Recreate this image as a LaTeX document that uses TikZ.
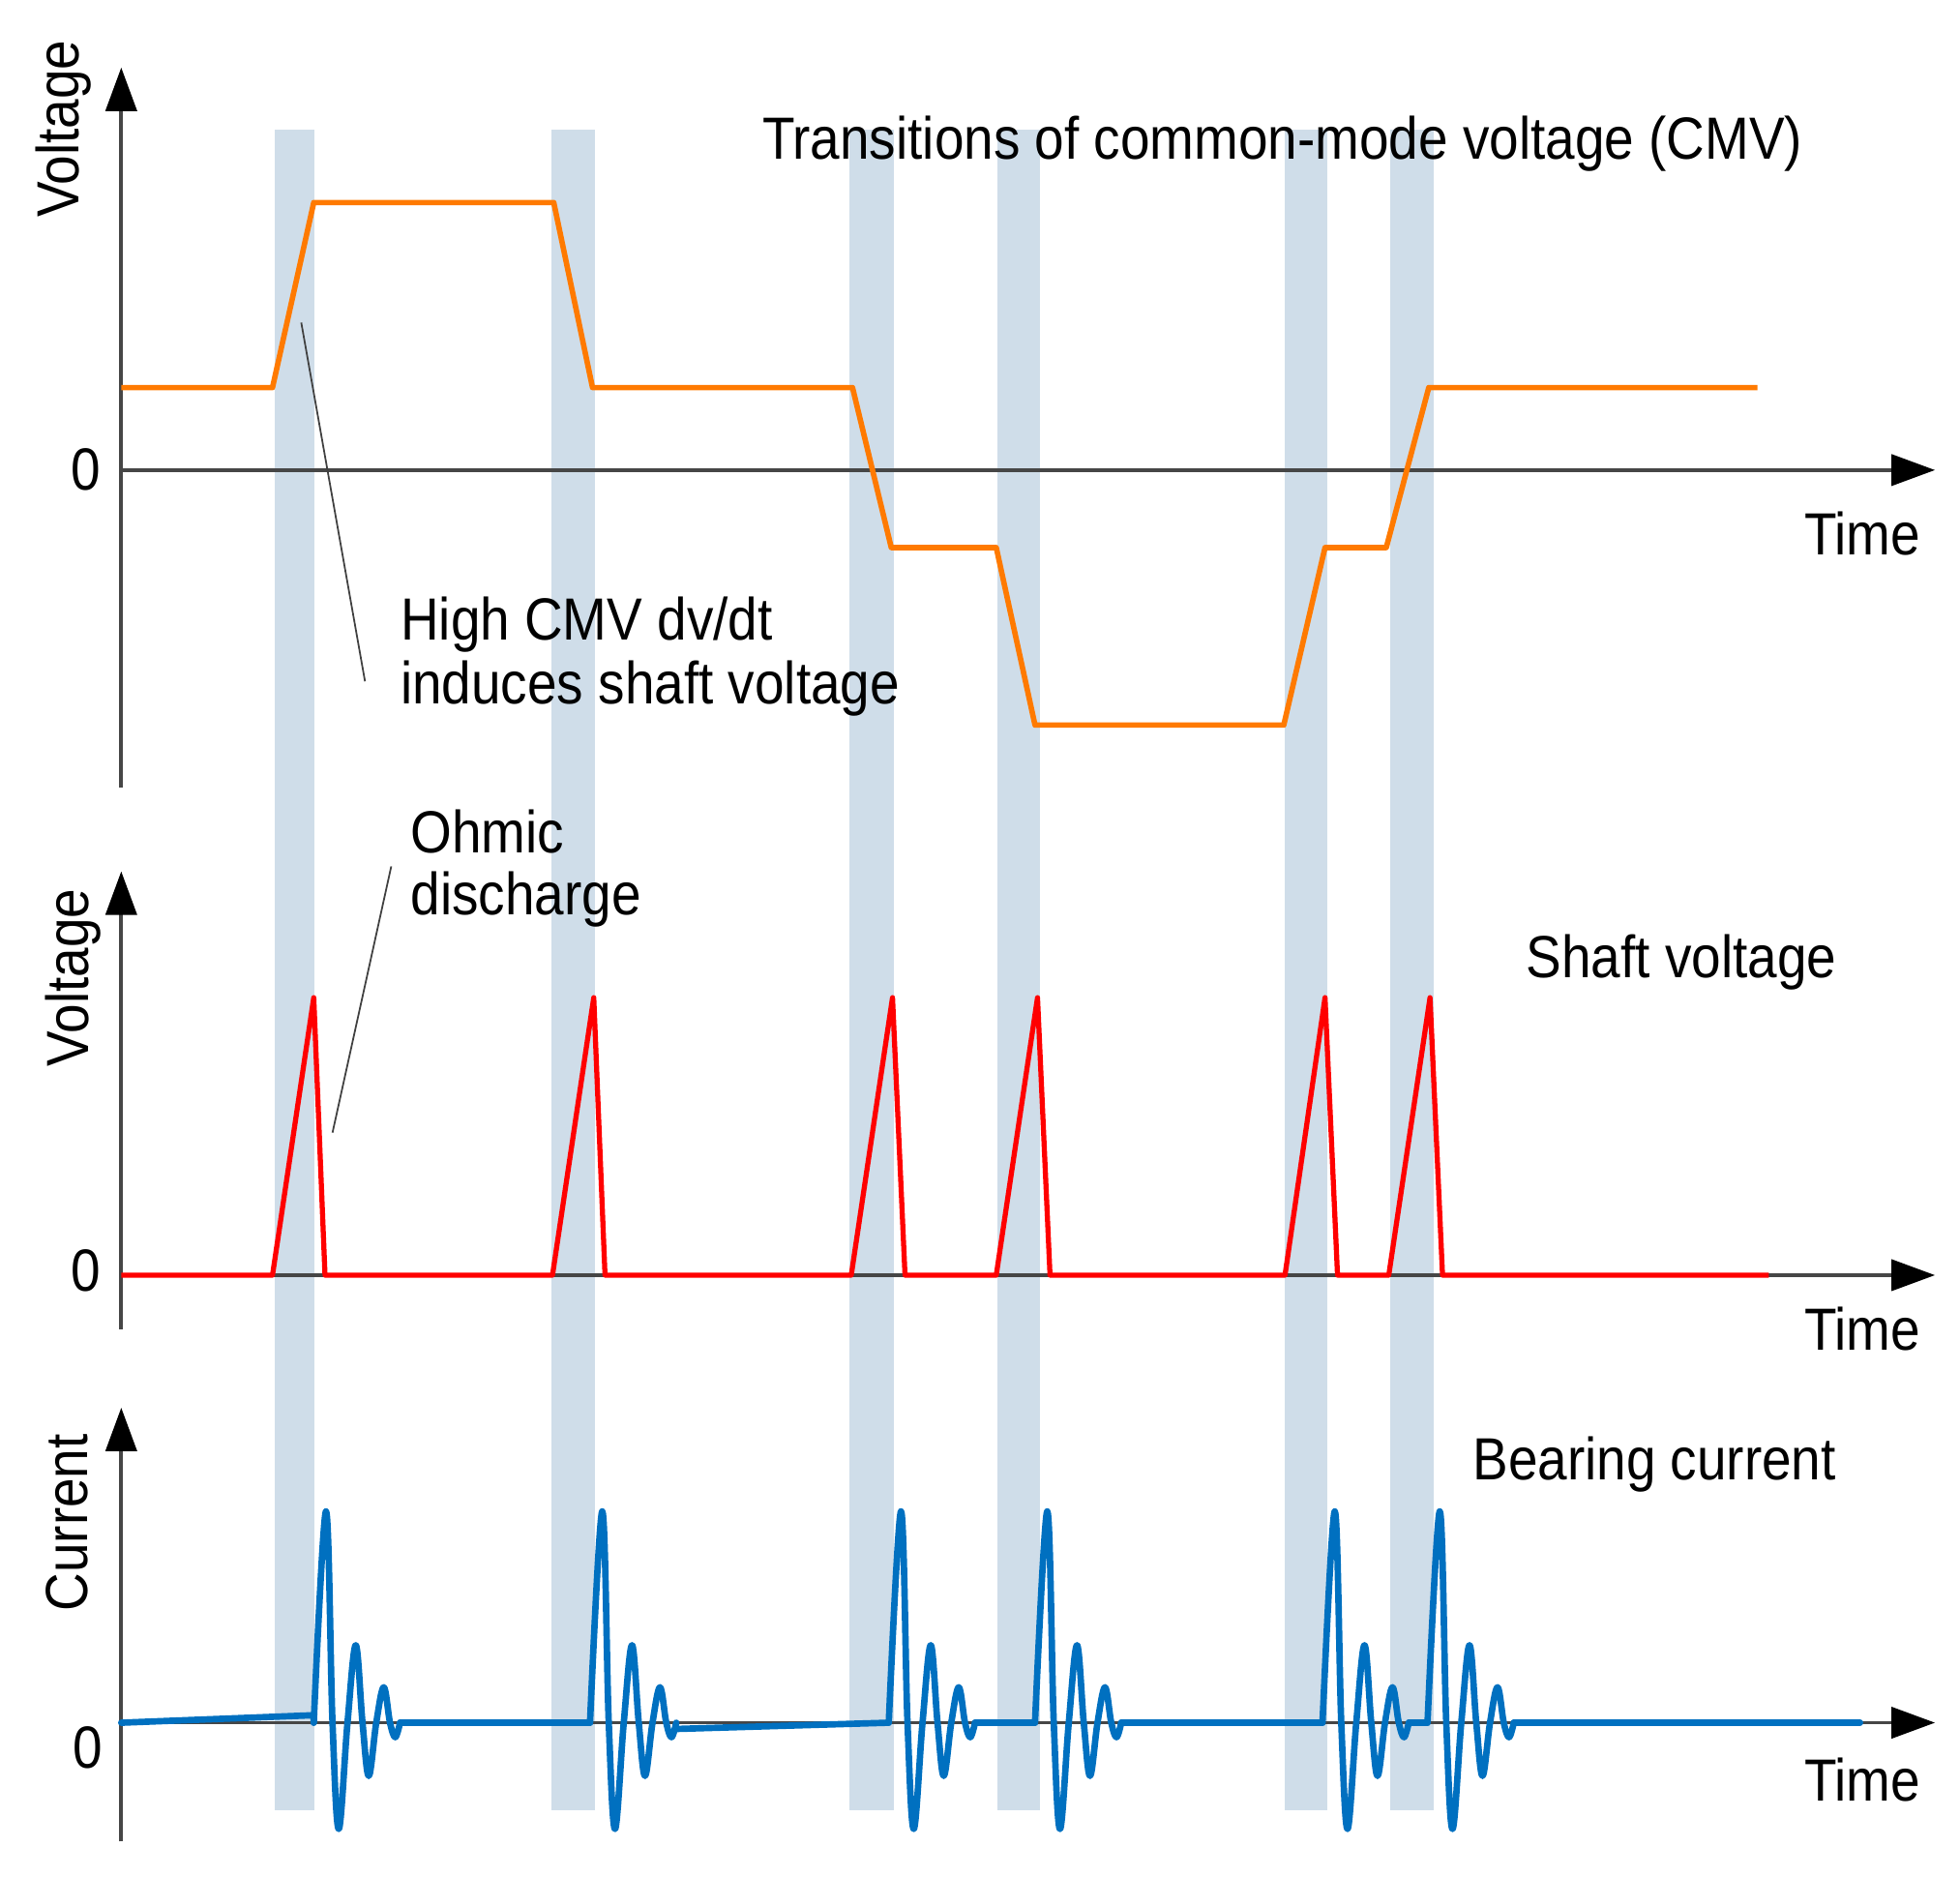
\documentclass[tikz,border=0pt]{standalone}
\usepackage{fontspec}
\setmainfont[FakeStretch=0.893]{Liberation Sans}
\usetikzlibrary{arrows.meta}
\definecolor{bandc}{RGB}{207,221,233}
\definecolor{cmvc}{RGB}{255,122,0}
\definecolor{shaftc}{RGB}{255,0,0}
\definecolor{bearc}{RGB}{0,112,192}
\definecolor{axisc}{RGB}{70,70,70}
\newcommand{\bearpulse}[1]{\draw[bearline, shift={(#1,1378)}] plot[smooth, tension=0.6] coordinates {(0,0) (9.8,-169) (15,0) (20,85) (27,0) (33.6,-62) (39,0) (44,42.6) (50,0) (56,-28.4) (61,0) (65.2,11.6) (69,0)};}
\begin{document}
\begin{tikzpicture}[x=0.01292cm, y=-0.01292cm,
  axisline/.style={draw=axisc, line width=1.1pt, -{Triangle[length=0.45cm,width=0.32cm,color=black]}},
  cmvline/.style={draw=cmvc, line width=1.6pt, line join=round},
  shaftline/.style={draw=shaftc, line width=1.5pt, line join=round},
  bearline/.style={draw=bearc, line width=1.9pt, line join=round, line cap=round},
  leader/.style={draw=black!75, line width=0.5pt},
  lbl/.style={font=\fontsize{17.5}{21}\selectfont, inner sep=0pt},
  bandfill/.style={fill=bandc}]
\useasboundingbox (0,0) rectangle (1568,1500.7);

% bands
\foreach \a/\b in {219.5/251.5, 441.5/476, 679.6/714.8, 797.7/832.2, 1027.7/1062.2, 1112.2/1146.9}
  \fill[bandfill] (\a,104) rectangle (\b,1448);

% axes
\draw[axisline] (97,630) -- (97,54);
\draw[axisline] (97,376) -- (1548,376);
\draw[axisline] (97,1063) -- (97,697);
\draw[axisline] (97,1020) -- (1548,1020);
\draw[axisline] (97,1473) -- (97,1126);
\draw[axisline] (97,1378) -- (1548,1378);

% CMV
\draw[cmvline] (97,310) -- (218,310) -- (251,162) -- (443,162) -- (474,310) -- (682,310) -- (713,438) -- (797,438) -- (828,580) -- (1027,580) -- (1060,438) -- (1109,438) -- (1143,310) -- (1406,310);

% shaft voltage
\draw[shaftline] (97,1020) -- (218,1020) -- (251,798) -- (260,1020) -- (442,1020) -- (475,798) -- (484,1020) -- (681,1020) -- (714,798) -- (724,1020) -- (797,1020) -- (830,798) -- (840,1020) -- (1028,1020) -- (1060,798) -- (1070,1020) -- (1111,1020) -- (1144,798) -- (1154,1020) -- (1415,1020);

% bearing current
\draw[bearline] (97,1378) -- (251,1372) -- (251,1378);
\draw[bearline] (320,1378) -- (472,1378);
\draw[bearline] (541,1383) -- (711,1378);
\draw[bearline] (780,1378) -- (828,1378);
\draw[bearline] (897,1378) -- (1058,1378);
\draw[bearline] (1127,1378) -- (1142,1378);
\draw[bearline] (1211,1378) -- (1488,1378);
\foreach \p in {251,472,711,828,1058,1142} {\bearpulse{\p}}

% axis labels
\node[lbl, rotate=90] (yl1) at (51,103) {Voltage};
\node[lbl, rotate=90] (yl2) at (58.5,782) {Voltage};
\node[lbl, rotate=90] (yl3) at (54,1218) {Current};
\node[lbl, anchor=base] (z1) at (69,392) {0};
\node[lbl, anchor=base] (z2) at (69,1033) {0};
\node[lbl, anchor=base] (z3) at (70,1414) {0};
\node[lbl, anchor=base] (t1) at (1490,444) {Time};
\node[lbl, anchor=base] (t2) at (1490,1080) {Time};
\node[lbl, anchor=base] (t3) at (1490,1441) {Time};

% titles
\node[lbl, anchor=base] (title1) at (1026,127) {Transitions of common-mode voltage (CMV)};
\node[lbl, anchor=base] (title2) at (1345,782) {Shaft voltage};
\node[lbl, anchor=base] (title3) at (1323.5,1184) {Bearing current};

% annotations
\node[lbl, anchor=base west] (n1a) at (320,512) {High CMV dv/dt};
\node[lbl, anchor=base west] (n1b) at (320,563) {induces shaft voltage};
\node[lbl, anchor=base west] (n2a) at (328,682) {Ohmic};
\node[lbl, anchor=base west] (n2b) at (328,732) {discharge};
\coordinate (l1a) at (241,258);
\coordinate (l1b) at (292,545);
\coordinate (l2a) at (313,693);
\coordinate (l2b) at (266,906);
\draw[leader] (l1a) -- (l1b);
\draw[leader] (l2a) -- (l2b);
\end{tikzpicture}
\end{document}
